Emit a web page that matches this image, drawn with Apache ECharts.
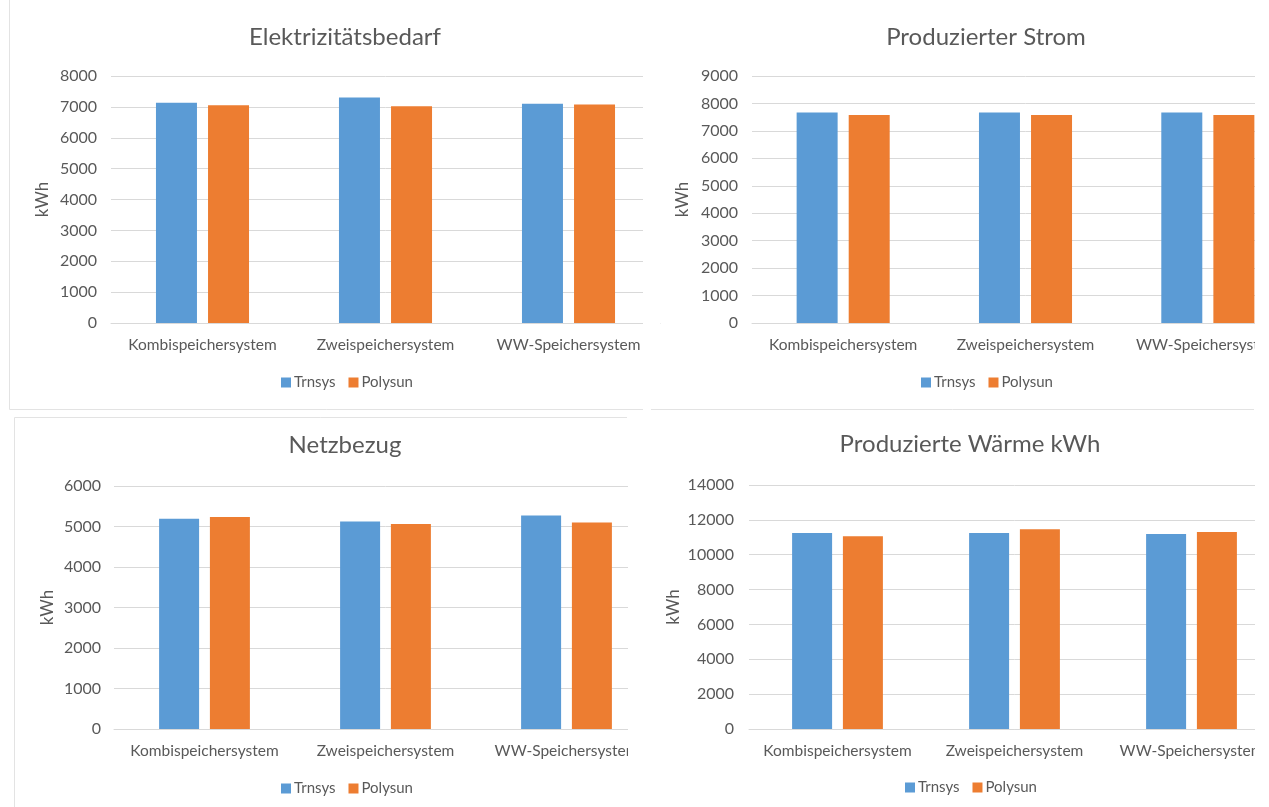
<!DOCTYPE html>
<html>
<head>
<meta charset="utf-8">
<script src="https://cdn.jsdelivr.net/npm/echarts@6/dist/echarts.min.js"></script>
<style>
html,body{margin:0;padding:0;background:#fff;overflow:hidden;width:1269px;height:807px;}
#main{width:1320px;height:807px;}
</style>
</head>
<body>
<div id="main"></div>
<script>
const categories = ['Kombispeichersystem', 'Zweispeichersystem', 'WW-Speichersystem'];
const seriesNames = ['Trnsys', 'Polysun'];
const titles = ['Elektrizitätsbedarf', 'Produzierter Strom', 'Netzbezug', 'Produzierte Wärme kWh'];
const axisName = 'kWh';

const elekTrnsys = [7130, 7300, 7105];
const elekPolysun = [7050, 7020, 7075];
const stromTrnsys = [7670, 7670, 7670];
const stromPolysun = [7575, 7575, 7575];
const netzTrnsys = [5190, 5125, 5270];
const netzPolysun = [5235, 5060, 5100];
const waermeTrnsys = [11250, 11250, 11190];
const waermePolysun = [11060, 11460, 11300];

const yMax = [8000, 9000, 6000, 14000];
const yInterval = [1000, 1000, 1000, 2000];

const FONT = 'Lato';
const TXT = '#595959';
const GRIDC = '#D9D9D9';
const BLUE = '#5B9BD5';
const ORANGE = '#ED7D31';

const panels = [
  {grid: {left: 111, top: 76, width: 549, height: 247}, title: {x: 345, y: 25}, legend: {x: 281, y: 375}, labelMargin: 14, nameGap: 60, barWidth: 41, data: [elekTrnsys, elekPolysun]},
  {grid: {left: 752, top: 76, width: 547, height: 247}, title: {x: 986, y: 25}, legend: {x: 921, y: 375}, labelMargin: 14, nameGap: 61, barWidth: 41, data: [stromTrnsys, stromPolysun]},
  {grid: {left: 114, top: 486, width: 543, height: 243}, title: {x: 345, y: 433}, legend: {x: 281, y: 781}, labelMargin: 13, nameGap: 58, barWidth: 40, data: [netzTrnsys, netzPolysun]},
  {grid: {left: 749, top: 485, width: 531, height: 244}, title: {x: 970, y: 432}, legend: {x: 905, y: 780}, labelMargin: 15, nameGap: 67, barWidth: 40, data: [waermeTrnsys, waermePolysun]}
];

const option = {
  animation: false,
  backgroundColor: '#fff',
  color: [BLUE, ORANGE],
  textStyle: {fontFamily: FONT},
  title: panels.map((p, i) => ({
    text: titles[i], left: p.title.x, top: p.title.y, textAlign: 'center', padding: 0,
    textStyle: {fontFamily: FONT, fontSize: 24, fontWeight: 'normal', color: TXT}
  })),
  legend: panels.map((p) => ({
    data: seriesNames, left: p.legend.x, top: p.legend.y, icon: 'rect', itemWidth: 10, itemHeight: 10,
    itemGap: 13, padding: 0, selectedMode: false,
    textStyle: {fontFamily: FONT, fontSize: 15, color: TXT, padding: [0, 0, 0, -2]}
  })),
  grid: panels.map(p => Object.assign({containLabel: false}, p.grid)),
  xAxis: panels.map((p, i) => ({
    type: 'category', gridIndex: i, data: categories,
    axisLine: {lineStyle: {color: GRIDC, width: 1}}, axisTick: {show: false},
    axisLabel: {fontFamily: FONT, fontSize: 15.5, color: TXT, margin: 14, interval: 0}
  })),
  yAxis: panels.map((p, i) => ({
    type: 'value', gridIndex: i, min: 0, max: yMax[i], interval: yInterval[i],
    name: axisName, nameLocation: 'middle', nameRotate: 90, nameGap: p.nameGap,
    nameTextStyle: {fontFamily: FONT, fontSize: 17, color: TXT},
    axisLine: {show: false}, axisTick: {show: false},
    splitLine: {lineStyle: {color: GRIDC, width: 1}},
    axisLabel: {fontFamily: FONT, fontSize: 16, color: TXT, margin: p.labelMargin, formatter: v => String(v)}
  })),
  series: [],
  graphic: [
    {type: 'rect', shape: {x: 643, y: 60, width: 17, height: 310}, style: {fill: '#fff'}, z: 100},
    {type: 'rect', shape: {x: 1255, y: 0, width: 70, height: 807}, style: {fill: '#fff'}, z: 100},
    {type: 'rect', shape: {x: 628, y: 418, width: 30, height: 389}, style: {fill: '#fff'}, z: 100},
    {type: 'line', shape: {x1: 9.5, y1: 0, x2: 9.5, y2: 409.5}, style: {stroke: '#E3E3E3', lineWidth: 1}, z: 101},
    {type: 'line', shape: {x1: 9.5, y1: 409.5, x2: 643, y2: 409.5}, style: {stroke: '#E3E3E3', lineWidth: 1}, z: 101},
    {type: 'line', shape: {x1: 651, y1: 409.5, x2: 1254, y2: 409.5}, style: {stroke: '#E3E3E3', lineWidth: 1}, z: 101},
    {type: 'line', shape: {x1: 14.5, y1: 417.5, x2: 627, y2: 417.5}, style: {stroke: '#E3E3E3', lineWidth: 1}, z: 101},
    {type: 'line', shape: {x1: 14.5, y1: 417.5, x2: 14.5, y2: 807}, style: {stroke: '#E3E3E3', lineWidth: 1}, z: 101}
  ]
};

panels.forEach((p, i) => {
  seriesNames.forEach((name, k) => {
    option.series.push({
      name: name, type: 'bar', xAxisIndex: i, yAxisIndex: i,
      data: p.data[k], barWidth: p.barWidth, barGap: '27%',
      itemStyle: {color: k === 0 ? BLUE : ORANGE}
    });
  });
});

const chart = echarts.init(document.getElementById('main'), null, {renderer: 'canvas'});
chart.setOption(option);
</script>
</body>
</html>
